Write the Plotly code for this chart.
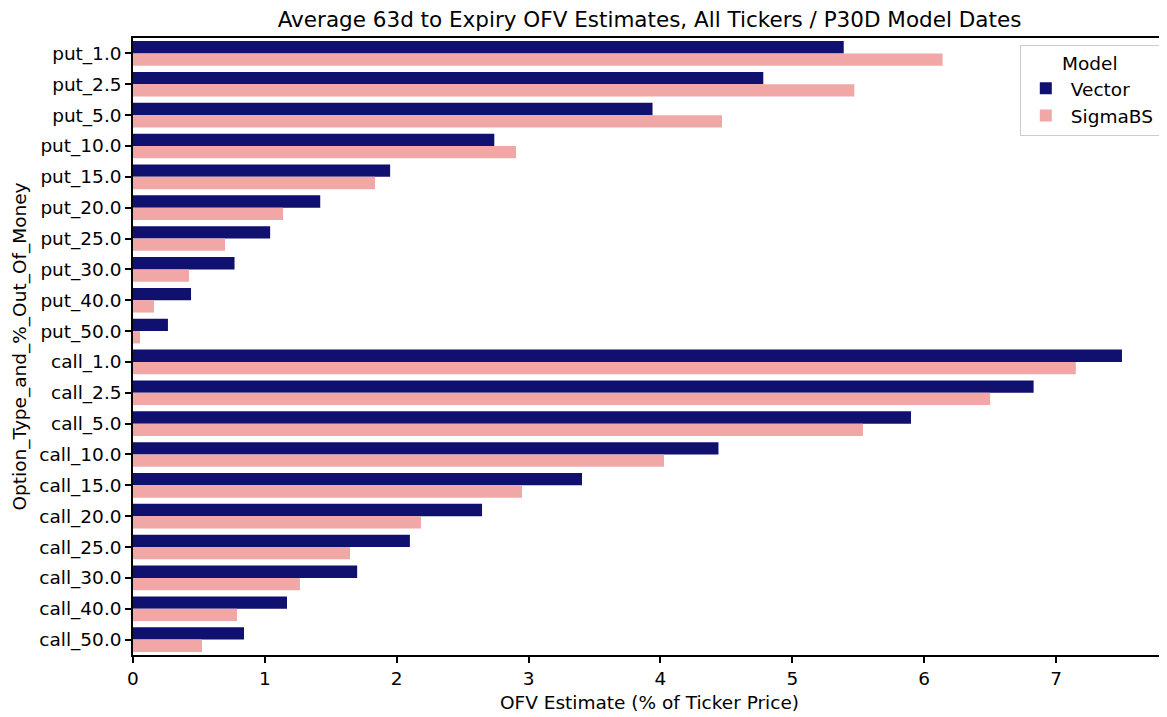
import plotly.graph_objects as go

categories = ["put_1.0", "put_2.5", "put_5.0", "put_10.0", "put_15.0", "put_20.0",
              "put_25.0", "put_30.0", "put_40.0", "put_50.0",
              "call_1.0", "call_2.5", "call_5.0", "call_10.0", "call_15.0", "call_20.0",
              "call_25.0", "call_30.0", "call_40.0", "call_50.0"]

vector = [5.39, 4.78, 3.94, 2.74, 1.95, 1.42, 1.04, 0.77, 0.44, 0.265,
          7.50, 6.83, 5.90, 4.44, 3.405, 2.647, 2.10, 1.70, 1.168, 0.842]

sigmabs = [6.14, 5.47, 4.467, 2.905, 1.835, 1.138, 0.698, 0.425, 0.159, 0.053,
           7.15, 6.50, 5.536, 4.027, 2.95, 2.184, 1.646, 1.266, 0.789, 0.523]

x_ticks = [0, 1, 2, 3, 4, 5, 6, 7]

FONT = "DejaVu Sans"
FS = 18.5

fig = go.Figure()
fig.add_trace(go.Bar(y=categories, x=vector, name="Vector", orientation="h",
                     marker=dict(color="#10106f", line=dict(width=0))))
fig.add_trace(go.Bar(y=categories, x=sigmabs, name="SigmaBS", orientation="h",
                     marker=dict(color="#f2a7a7", line=dict(width=0))))

fig.update_layout(
    width=1159, height=709,
    margin=dict(l=125, r=1, t=30, b=62),
    paper_bgcolor="white", plot_bgcolor="white",
    barmode="group", bargap=0.2, bargroupgap=0,
    font=dict(family=FONT, size=FS, color="black"),
    title=dict(text="Average 63d to Expiry OFV Estimates, All Tickers / P30D Model Dates",
               x=0.5, xanchor="center", xref="paper", y=1 - 4 / 709, yref="container", yanchor="top",
               pad=dict(t=0, b=0),
               font=dict(family=FONT, size=21.5, color="black")),
    legend=dict(title=dict(text="Model", side="top center", font=dict(size=FS)),
                x=0.994, y=0.989, xanchor="right", yanchor="top",
                bordercolor="#cccccc", borderwidth=1, bgcolor="white",
                font=dict(size=FS), tracegroupgap=2, itemwidth=40),
    xaxis=dict(range=[0, 7.834], tickvals=x_ticks, ticktext=[str(v) for v in x_ticks],
               showgrid=False, zeroline=False, showline=True, linecolor="black", linewidth=1.5,
               mirror=True, ticks="outside", ticklen=6, tickwidth=1.5, tickcolor="black",
               title=dict(text="OFV Estimate (% of Ticker Price)", standoff=8, font=dict(size=FS))),
    yaxis=dict(categoryorder="array", categoryarray=categories, autorange="reversed",
               showgrid=False, zeroline=False, showline=True, linecolor="black", linewidth=1.5,
               ticks="outside", ticklen=6, tickwidth=1.5, tickcolor="black",
               title=dict(text="Option_Type_and_%_Out_Of_Money", standoff=8, font=dict(size=FS))),
)

fig.write_html("out.html")
